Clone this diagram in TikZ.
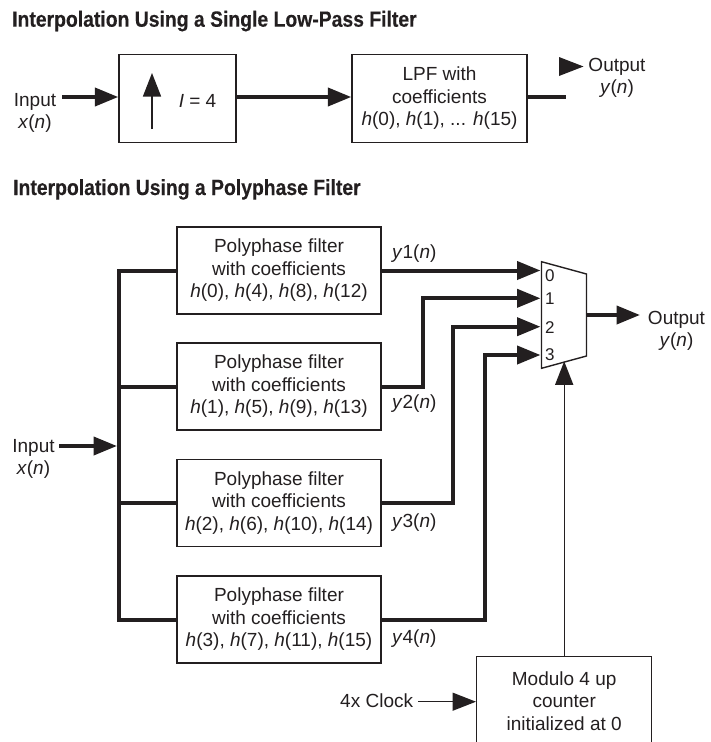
\documentclass[tikz,border=0pt]{standalone}
\usepackage{fontspec}
\setmainfont{Liberation Sans}
\newfontfamily\titlefont[FakeStretch=0.88,FakeBold=0.3]{Liberation Sans}
\usetikzlibrary{arrows.meta}
\definecolor{ink}{HTML}{231F20}
\begin{document}
\begin{tikzpicture}[x=1pt,y=-1pt,
  every node/.style={text=ink, inner sep=0pt},
  body/.style={font=\fontsize{19}{22.5}\selectfont, align=center},
  dig/.style={font=\fontsize{17}{20}\selectfont},
  ttl/.style={font=\titlefont\bfseries\fontsize{22}{25}\selectfont, anchor=base west},
  blk/.style={draw=ink, line width=1.4pt, body},
  thickw/.style={draw=ink, line width=4pt},
  thinw/.style={draw=ink, line width=1.4pt},
  tipx/.style={-{Triangle[length=23.5pt,width=18pt]}}]
\useasboundingbox (0,0) rectangle (710,742);
\clip (0,0) rectangle (710,742);

% titles
\node[ttl] (t1) at (12,26.7) {Interpolation Using a Single Low-Pass Filter};
\node[ttl] (t2) at (13,195) {Interpolation Using a Polyphase Filter};

% ---- top diagram ----
\node[body, anchor=north] (inlab1) at (35,93) {Input\\\textit{x}(\textit{n})};
\node[blk, minimum width=117pt, minimum height=88pt] (up) at (177.5,98.5) {};
\coordinate (ua0) at (152,129);
\coordinate (ua1) at (152,73);
\draw[thinw, tipx] (ua0) -- (ua1);
\node[body, anchor=base] (ifac) at (197.5,107) {\textit{I} = 4};
\node[blk, minimum width=175pt, minimum height=88pt] (lpf) at (439.5,98.5)
  {LPF with\\coefficients\\\textit{h}(0), \textit{h}(1), ... \textit{h}(15)};
\coordinate (in1) at (62,97);
\draw[thickw, tipx] (in1) -- (up.west |- in1);
\draw[thickw, tipx] (up.east |- in1) -- (lpf.west |- in1);
\coordinate (out1) at (566,97);
\draw[thickw] (lpf.east |- out1) -- (out1);
\fill[ink] (559,57) -- (583.5,66.5) -- (559,76) -- cycle;
\node[body, anchor=north] (outlab1) at (617,58) {Output\\\textit{y}(\textit{n})};

% ---- bottom diagram ----
\node[blk, minimum width=204pt, minimum height=87pt] (p0) at (279,270.5)
  {Polyphase filter\\with coefficients\\\textit{h}(0), \textit{h}(4), \textit{h}(8), \textit{h}(12)};
\node[blk, minimum width=204pt, minimum height=87pt] (p1) at (279,386.5)
  {Polyphase filter\\with coefficients\\\textit{h}(1), \textit{h}(5), \textit{h}(9), \textit{h}(13)};
\node[blk, minimum width=204pt, minimum height=87pt] (p2) at (279,503)
  {Polyphase filter\\with coefficients\\\textit{h}(2), \textit{h}(6), \textit{h}(10), \textit{h}(14)};
\node[blk, minimum width=204pt, minimum height=87pt] (p3) at (279,619.5)
  {Polyphase filter\\with coefficients\\\textit{h}(3), \textit{h}(7), \textit{h}(11), \textit{h}(15)};

% input bus
\coordinate (bt) at (119,270.5);
\coordinate (bb) at (119,619.5);
\draw[thickw] (p0.west) -- (bt) -- (bb) -- (p3.west);
\draw[thickw] (p1.west) -- (p1.west -| bt);
\draw[thickw] (p2.west) -- (p2.west -| bt);
\coordinate (in2) at (59,446);
\coordinate (bi) at (117,446);
\draw[thickw, tipx] (in2) -- (bi);
\node[body, anchor=north] (inlab2) at (33.5,439) {Input\\\textit{x}(\textit{n})};

% multiplexer
\coordinate (mA) at (541.5,261.7);
\coordinate (mB) at (586.5,274);
\coordinate (mC) at (586.5,356);
\coordinate (mD) at (541.5,368.3);
\draw[thinw, line join=miter] (mA) -- (mB) -- (mC) -- (mD) -- cycle;
\node[dig, anchor=west] (d0) at (545,276) {0};
\node[dig, anchor=west] (d1) at (545,299) {1};
\node[dig, anchor=west] (d2) at (545,328) {2};
\node[dig, anchor=west] (d3) at (545,355) {3};
\coordinate (m0) at (540.5,270.5);
\coordinate (m1) at (540.5,298.3);
\coordinate (m2) at (540.5,326.7);
\coordinate (m3) at (540.5,355);
\coordinate (k1) at (423,298.3);
\coordinate (k2) at (453,326.7);
\coordinate (k3) at (484.5,355);
\draw[thickw, tipx] (p0.east) -- (m0);
\draw[thickw, tipx] (p1.east) -| (k1) -- (m1);
\draw[thickw, tipx] (p2.east) -| (k2) -- (m2);
\draw[thickw, tipx] (p3.east) -| (k3) -- (m3);
\node[body, anchor=base west] (y1l) at (392,258) {\textit{y}1(\textit{n})};
\node[body, anchor=base west] (y2l) at (392,408) {\textit{y}2(\textit{n})};
\node[body, anchor=base west] (y3l) at (392,527.5) {\textit{y}3(\textit{n})};
\node[body, anchor=base west] (y4l) at (392,643) {\textit{y}4(\textit{n})};

\coordinate (mo) at (586.5,315);
\coordinate (oe) at (640,315);
\draw[thickw, tipx] (mo) -- (oe);
\node[body, anchor=north] (outlab2) at (676.5,311) {Output\\\textit{y}(\textit{n})};

% counter
\node[blk, minimum width=175pt, minimum height=88pt, anchor=north] (cnt) at (564.2,656)
  {Modulo 4 up\\counter\\initialized at 0};
\coordinate (sel) at (564.2,361.3);
\draw[thinw, tipx] (cnt.north) -- (sel);
\coordinate (clk) at (418,701.7);
\draw[thinw, tipx] (clk) -- (clk -| cnt.west);
\node[body, anchor=base east] (clklab) at (413.3,707) {4x Clock};
\end{tikzpicture}
\end{document}
